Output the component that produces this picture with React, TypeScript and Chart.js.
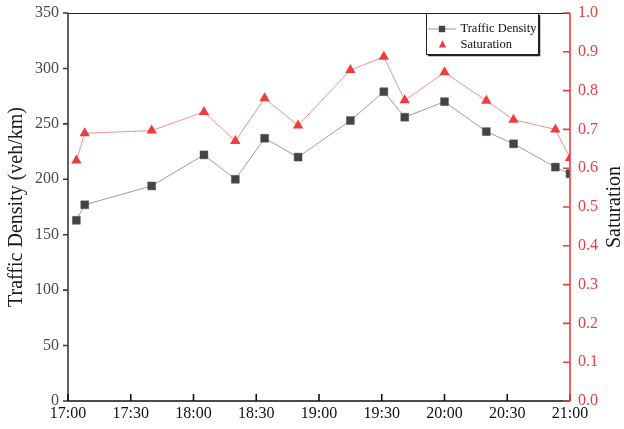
import React, { useEffect, useRef } from "react";
import { Chart, registerables } from "chart.js";

Chart.register(...registerables);

const times = ["17:04", "17:08", "17:40", "18:05", "18:20", "18:34", "18:50", "19:15", "19:31", "19:41", "20:00", "20:20", "20:33", "20:53", "21:00"];
const density = [163, 177, 194, 222, 200, 237, 220, 253, 279, 256, 270, 243, 232, 211, 205];
const saturation = [0.62, 0.69, 0.697, 0.745, 0.67, 0.78, 0.71, 0.853, 0.887, 0.775, 0.847, 0.774, 0.725, 0.7, 0.626];

const startHour = 17;
const toMin = (t: string) => {
  const [h, m] = t.split(":").map(Number);
  return (h - startHour) * 60 + m;
};
const fmt = (v: number) => {
  const h = startHour + Math.floor(v / 60);
  const m = Math.round(v % 60);
  return `${h}:${m.toString().padStart(2, "0")}`;
};

const SERIF = "'Liberation Serif', 'Times New Roman', serif";
const RED = "rgb(238,60,64)";
const DARK = "#444444";

const axesPlugin = {
  id: "customAxes",
  afterDraw(chart: any) {
    const { ctx, chartArea: a, scales } = chart;
    const x = scales.x, y = scales.y, y1 = scales.y1;
    ctx.save();
    ctx.strokeStyle = "#222";
    ctx.lineWidth = 1.2;
    ctx.beginPath();
    ctx.moveTo(a.left, a.top + 0.5);
    ctx.lineTo(a.right, a.top + 0.5);
    ctx.stroke();
    ctx.strokeStyle = "#3a3a3a";
    ctx.lineWidth = 1.6;
    ctx.beginPath();
    ctx.moveTo(a.left, a.top);
    ctx.lineTo(a.left, a.bottom);
    y.ticks.forEach((t: any) => {
      const py = y.getPixelForValue(t.value);
      ctx.moveTo(a.left - 5, py);
      ctx.lineTo(a.left, py);
    });
    ctx.stroke();
    ctx.strokeStyle = "#111";
    ctx.lineWidth = 1.6;
    ctx.beginPath();
    ctx.moveTo(a.left, a.bottom);
    ctx.lineTo(a.right, a.bottom);
    x.ticks.forEach((t: any) => {
      const px = x.getPixelForValue(t.value);
      ctx.moveTo(px, a.bottom);
      ctx.lineTo(px, a.bottom - 7);
    });
    ctx.stroke();
    ctx.strokeStyle = RED;
    ctx.lineWidth = 1.6;
    ctx.beginPath();
    ctx.moveTo(a.right, a.top);
    ctx.lineTo(a.right, a.bottom);
    y1.ticks.forEach((t: any) => {
      const py = y1.getPixelForValue(t.value);
      ctx.moveTo(a.right - 7, py);
      ctx.lineTo(a.right, py);
    });
    ctx.stroke();

    ctx.fillStyle = "#1a1a1a";
    ctx.font = `20px ${SERIF}`;
    ctx.textAlign = "center";
    ctx.textBaseline = "middle";
    const cy = (a.top + a.bottom) / 2;
    ctx.save();
    ctx.translate(17, cy);
    ctx.rotate(-Math.PI / 2);
    ctx.fillText("Traffic Density (veh/km)", 0, 0);
    ctx.restore();
    ctx.save();
    ctx.translate(615, cy);
    ctx.rotate(-Math.PI / 2);
    ctx.fillText("Saturation", 0, 0);
    ctx.restore();

    const lx = 426, ly = a.top, lw = 112, lh = 41;
    ctx.fillStyle = "#ffffff";
    ctx.fillRect(lx, ly, lw, lh);
    ctx.strokeStyle = "#222";
    ctx.lineWidth = 1;
    ctx.strokeRect(lx + 0.5, ly + 0.5, lw, lh);
    ctx.lineWidth = 1.5;
    ctx.beginPath();
    ctx.moveTo(lx + lw + 1.5, ly + 2);
    ctx.lineTo(lx + lw + 1.5, ly + lh + 1.5);
    ctx.lineTo(lx + 2, ly + lh + 1.5);
    ctx.stroke();

    const e1y = 29, e2y = 44.5;
    ctx.strokeStyle = "#999";
    ctx.lineWidth = 1;
    ctx.beginPath();
    ctx.moveTo(428, e1y);
    ctx.lineTo(456, e1y);
    ctx.stroke();
    ctx.fillStyle = DARK;
    ctx.fillRect(442 - 3.2, e1y - 3.2, 6.4, 6.4);
    ctx.fillStyle = RED;
    ctx.beginPath();
    const tr = 4.2;
    ctx.moveTo(442.5, e2y - tr);
    ctx.lineTo(442.5 + tr * 0.866, e2y + tr * 0.5 + 1);
    ctx.lineTo(442.5 - tr * 0.866, e2y + tr * 0.5 + 1);
    ctx.closePath();
    ctx.fill();

    ctx.fillStyle = "#111";
    ctx.font = `12.5px ${SERIF}`;
    ctx.textAlign = "left";
    ctx.textBaseline = "middle";
    ctx.fillText("Traffic Density", 460.5, e1y);
    ctx.fillText("Saturation", 460.5, e2y);
    ctx.restore();
  },
};

const noPad = (s: any) => {
  s.paddingTop = 0;
  s.paddingBottom = 0;
  s.paddingLeft = 0;
  s.paddingRight = 0;
};

export default function App() {
  const ref = useRef<HTMLCanvasElement | null>(null);
  useEffect(() => {
    if (!ref.current) return;
    const xs = times.map(toMin);
    const chart = new Chart(ref.current, {
      type: "line",
      data: {
        datasets: [
          {
            label: "Traffic Density",
            data: xs.map((x, i) => ({ x, y: density[i] })),
            yAxisID: "y",
            borderColor: "rgba(120,120,120,0.8)",
            borderWidth: 0.9,
            pointStyle: "rect",
            pointRadius: 5.6,
            pointBackgroundColor: DARK,
            pointBorderColor: "#555",
            pointBorderWidth: 0.5,
          },
          {
            label: "Saturation",
            data: xs.map((x, i) => ({ x, y: saturation[i] })),
            yAxisID: "y1",
            borderColor: "rgba(240,90,90,0.75)",
            borderWidth: 0.9,
            pointStyle: "triangle",
            pointRadius: 6,
            pointBackgroundColor: RED,
            pointBorderColor: RED,
            pointBorderWidth: 0,
          },
        ],
      },
      options: {
        animation: false,
        responsive: false,
        maintainAspectRatio: false,
        layout: { padding: { top: 13, left: 0, right: 0, bottom: 0 } },
        plugins: { legend: { display: false }, tooltip: { enabled: false } },
        scales: {
          x: {
            type: "linear",
            position: "bottom",
            min: 0,
            max: 240,
            grid: { display: false, drawTicks: false },
            border: { display: false },
            ticks: {
              stepSize: 30,
              callback: (v: any) => fmt(Number(v)),
              font: { family: SERIF, size: 16 },
              color: "#111",
              padding: 3,
              maxRotation: 0,
            },
            afterFit: (s: any) => { s.height = 28; noPad(s); },
          },
          y: {
            position: "left",
            min: 0,
            max: 350,
            grid: { display: false, drawTicks: false },
            border: { display: false },
            ticks: {
              stepSize: 50,
              font: { family: SERIF, size: 16 },
              color: "#4a4a4a",
              padding: 9,
            },
            afterFit: (s: any) => { s.width = 68; noPad(s); },
          },
          y1: {
            position: "right",
            min: 0,
            max: 1,
            grid: { display: false, drawTicks: false },
            border: { display: false },
            ticks: {
              stepSize: 0.1,
              callback: (v: any) => Number(v).toFixed(1),
              font: { family: SERIF, size: 16 },
              color: RED,
              padding: 8,
            },
            afterFit: (s: any) => { s.width = 54; noPad(s); },
          },
        },
      },
      plugins: [axesPlugin],
    });
    return () => chart.destroy();
  }, []);
  return (
    <div style={{ position: "fixed", left: 0, top: 0, width: 624, height: 429, background: "#fff" }}>
      <canvas ref={ref} width={624} height={429} style={{ width: 624, height: 429, display: "block" }} />
    </div>
  );
}
